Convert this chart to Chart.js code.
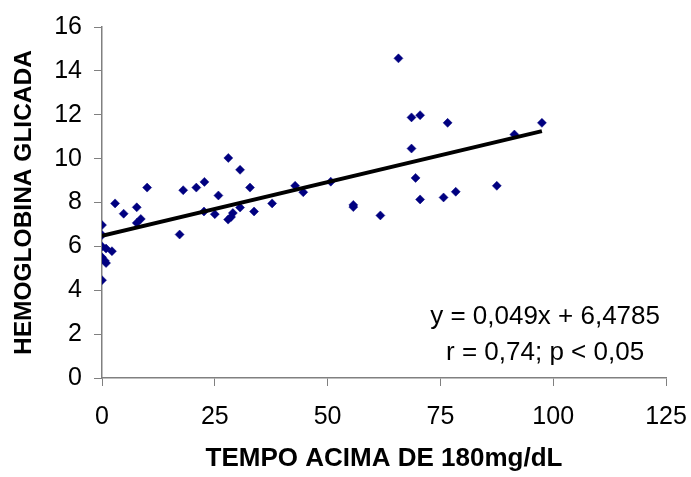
<!DOCTYPE html>
<html>
<head>
<meta charset="utf-8">
<script src="https://cdn.jsdelivr.net/npm/chart.js@4.4.1/dist/chart.umd.min.js"></script>
<style>
    body { margin: 0; background: #fff; }
    canvas { display: block; }
</style>
</head>
<body>
<canvas id="myChart" width="691" height="477"></canvas>
<script>
// tempo acima de 180 mg/dL (x) e hemoglobina glicada (y)
const tempoAcima = [
    0, 0, 0, 0.9, 2.2, 0, 0.6, 0.9, 0,
    2.9, 4.8, 7.7, 7.7, 8.6, 10.0, 17.2, 18.0, 20.9, 22.7, 22.6,
    25.0, 25.8, 28.0, 30.6, 32.8, 27.95, 28.6, 29.0, 30.6, 33.7, 37.7,
    42.8, 44.6, 50.7, 55.7, 55.7, 61.7, 65.7, 68.6, 70.5, 68.6, 69.5,
    70.5, 75.7, 76.6, 78.4, 87.5, 91.4, 97.5
];
const hemoglobina = [
    6.97, 6.52, 6.0, 5.9, 5.78, 5.5, 5.35, 5.24, 4.46,
    7.96, 7.49, 7.78, 7.07, 7.25, 8.68, 6.54, 8.56, 8.68, 8.94, 7.59,
    7.47, 8.32, 10.03, 9.49, 8.68, 7.22, 7.34, 7.52, 7.77, 7.59, 7.96,
    8.76, 8.47, 8.95, 7.89, 7.79, 7.41, 14.57, 11.88, 11.98, 10.46, 9.12,
    8.14, 8.23, 11.63, 8.49, 8.76, 11.10, 11.63
];
const xTicks = [0, 25, 50, 75, 100, 125];
const yTicks = [0, 2, 4, 6, 8, 10, 12, 14, 16];

// linha de tendência
const slope = 0.049;
const intercept = 6.4785;
const eqLines = ['y = 0,049x + 6,4785', 'r = 0,74; p < 0,05'];

const FONT = 'Arial, "Liberation Sans", sans-serif';
const axisGray = '#808080';

const points = tempoAcima.map((x, i) => ({x: x, y: hemoglobina[i]}));
const xEnd = Math.max(...tempoAcima);
const trend = [
    {x: 0, y: intercept},
    {x: xEnd, y: intercept + slope * xEnd}
];

const equationPlugin = {
    id: 'equation',
    afterDatasetsDraw(chart) {
        const ctx = chart.ctx;
        const xs = chart.scales.x;
        const ys = chart.scales.y;
        ctx.save();
        ctx.fillStyle = '#000';
        ctx.font = '26px ' + FONT;
        ctx.textAlign = 'center';
        ctx.textBaseline = 'middle';
        ctx.fillText(eqLines[0], xs.getPixelForValue(98.2), ys.getPixelForValue(2.81));
        ctx.fillText(eqLines[1], xs.getPixelForValue(98.2), ys.getPixelForValue(1.15));
        ctx.restore();
    }
};

const config = {
    type: 'scatter',
    data: {
        datasets: [{
            label: 'HbA1c',
            data: points,
            pointStyle: 'rectRot',
            pointRadius: 4.5,
            pointBorderWidth: 0.5,
            backgroundColor: '#000080',
            borderColor: '#000080',
            order: 2
        }, {
            label: 'tendência',
            type: 'line',
            data: trend,
            borderColor: '#000',
            borderWidth: 4,
            pointRadius: 0,
            fill: false,
            order: 1
        }]
    },
    options: {
        responsive: false,
        animation: false,
        layout: {padding: {top: 20, right: 25, left: 0, bottom: 0}},
        plugins: {
            legend: {display: false},
            tooltip: {enabled: false}
        },
        scales: {
            x: {
                type: 'linear',
                min: xTicks[0],
                max: xTicks[xTicks.length - 1],
                afterBuildTicks: s => { s.ticks = xTicks.map(v => ({value: v})); },
                afterFit: s => {
                    s.height = 99;
                    s.paddingLeft = 0;
                    s.paddingRight = 0;
                },
                grid: {drawOnChartArea: false, tickLength: 8, color: axisGray, lineWidth: 1},
                border: {color: axisGray, width: 1.5},
                ticks: {color: '#000', font: {family: FONT, size: 25}, padding: 16},
                title: {
                    display: true,
                    text: 'TEMPO ACIMA DE 180mg/dL',
                    color: '#000',
                    font: {family: FONT, size: 26, weight: 'bold'},
                    padding: {top: 0, bottom: 3}
                }
            },
            y: {
                type: 'linear',
                min: yTicks[0],
                max: yTicks[yTicks.length - 1],
                afterBuildTicks: s => { s.ticks = yTicks.map(v => ({value: v})); },
                afterFit: s => { s.width = 102; },
                grid: {drawOnChartArea: false, tickLength: 8, color: axisGray, lineWidth: 1},
                border: {color: axisGray, width: 1.5},
                ticks: {color: '#000', font: {family: FONT, size: 25}, padding: 12},
                title: {
                    display: true,
                    text: 'HEMOGLOBINA GLICADA',
                    color: '#000',
                    font: {family: FONT, size: 24.5, weight: 'bold'},
                    padding: {top: 10, bottom: 0}
                }
            }
        }
    },
    plugins: [equationPlugin]
};

const myChart = new Chart(document.getElementById('myChart'), config);
</script>
</body>
</html>
